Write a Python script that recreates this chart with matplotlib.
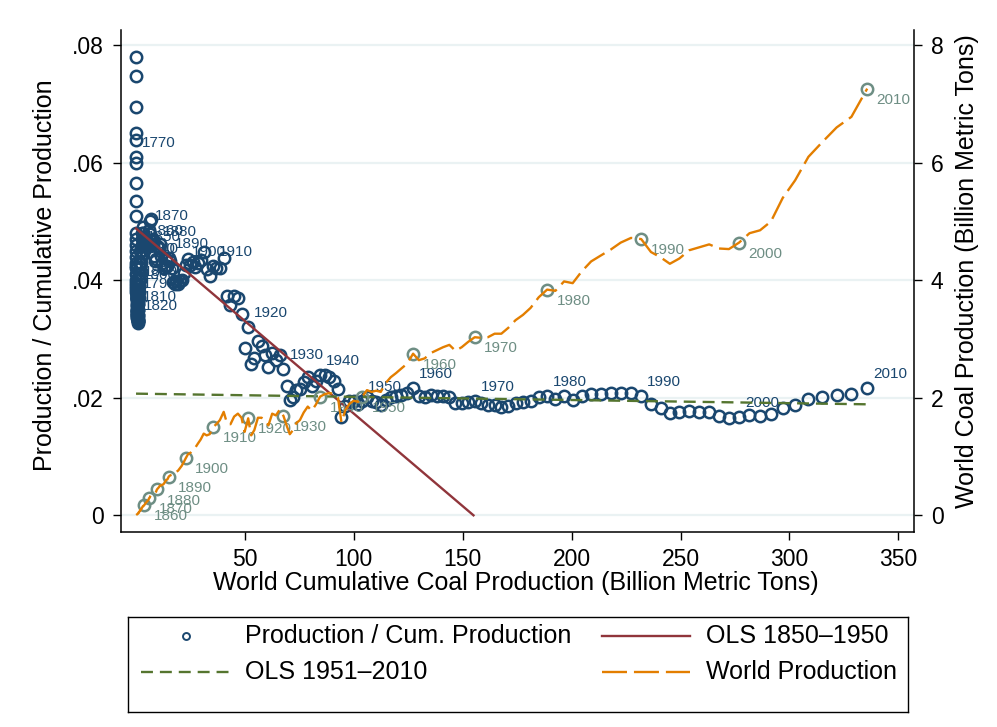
import numpy as np
import matplotlib
matplotlib.use("Agg")
import matplotlib.pyplot as plt

plt.rcParams['font.family'] = ['Liberation Sans', 'DejaVu Sans']
plt.rcParams['lines.scale_dashes'] = False

# production / cumulative production, 1765-1859 (cumulative is tiny here)
ratio_early = [
    0.0780, 0.0747, 0.0695, 0.0650, 0.0638,
    0.0610, 0.0600, 0.0565, 0.0535, 0.0509, 0.0480, 0.0470, 0.0460, 0.0450, 0.0440,
    0.0430, 0.0425, 0.0420, 0.0410, 0.0400, 0.0395, 0.0390, 0.0385, 0.0380, 0.0375,
    0.0370, 0.0372, 0.0368, 0.0370, 0.0375, 0.0372, 0.0376, 0.0382, 0.0378, 0.0380,
    0.0385, 0.0380, 0.0375, 0.0368, 0.0370, 0.0365, 0.0358, 0.0360, 0.0355, 0.0350,
    0.0347, 0.0348, 0.0342, 0.0350, 0.0340, 0.0345, 0.0338, 0.0340, 0.0335, 0.0330,
    0.0332, 0.0328, 0.0330, 0.0335, 0.0340, 0.0330, 0.0350, 0.0340, 0.0350, 0.0360,
    0.0390, 0.0370, 0.0360, 0.0380, 0.0390, 0.0370, 0.0380, 0.0410, 0.0390, 0.0400,
    0.0430, 0.0410, 0.0400, 0.0420, 0.0430, 0.0410, 0.0420, 0.0450, 0.0430, 0.0440,
    0.0450, 0.0440, 0.0450, 0.0460, 0.0480, 0.0470, 0.0490, 0.0480, 0.0460, 0.0470,
]
cum_1859 = 3.53  # billion metric tons mined before 1860

# world coal production 1860-2010, billion metric tons
prod_late = [
    0.17,
    0.18, 0.19, 0.20, 0.21, 0.22, 0.23, 0.24, 0.25, 0.26, 0.29,
    0.30, 0.33, 0.35, 0.34, 0.36, 0.37, 0.37, 0.38, 0.40, 0.44,
    0.46, 0.48, 0.51, 0.51, 0.52, 0.53, 0.56, 0.60, 0.61, 0.66,
    0.68, 0.69, 0.68, 0.70, 0.74, 0.76, 0.80, 0.84, 0.90, 0.97,
    1.04, 1.06, 1.12, 1.15, 1.22, 1.29, 1.39, 1.36, 1.38, 1.50,
    1.55, 1.62, 1.76, 1.56, 1.55, 1.68, 1.73, 1.66, 1.42, 1.65,
    1.36, 1.45, 1.66, 1.66, 1.62, 1.53, 1.73, 1.70, 1.80, 1.69,
    1.52, 1.38, 1.45, 1.57, 1.62, 1.75, 1.85, 1.78, 1.88, 2.02,
    2.06, 2.08, 2.07, 2.00, 1.58, 1.79, 1.90, 1.95, 1.93, 2.02,
    2.13, 2.10, 2.12, 2.10, 2.25, 2.35, 2.42, 2.50, 2.58, 2.75,
    2.64, 2.67, 2.76, 2.81, 2.86, 2.90, 2.80, 2.86, 2.95, 3.03,
    3.02, 3.03, 3.09, 3.09, 3.19, 3.32, 3.41, 3.53, 3.71, 3.84,
    3.82, 3.98, 3.95, 4.15, 4.32, 4.42, 4.52, 4.64, 4.72, 4.70,
    4.48, 4.39, 4.28, 4.37, 4.51, 4.56, 4.61, 4.54, 4.53, 4.64,
    4.80, 4.85, 5.00, 5.40, 5.70, 6.10, 6.35, 6.60, 6.78, 7.26,
]

# fitted lines: (intercept, slope)
ols_1850_1950 = (0.0488, -0.000315)
ols_1951_2010 = (0.0207, -0.0000054)

years = np.arange(1765, 2011)

# rebuild the early years backwards from the 1859 stock
cum_early = []
c = cum_1859
for r in reversed(ratio_early):
    cum_early.append(c)
    c = c - r * c
cum_early = np.array(cum_early[::-1])
prod_early = np.array(ratio_early) * cum_early

cum_late = cum_1859 + np.cumsum(prod_late)
cum = np.concatenate([cum_early, cum_late])
prod = np.concatenate([prod_early, np.array(prod_late)])
ratio = prod / cum

navy = '#1a476f'
maroon = '#90353b'
green = '#55752f'
orange = '#e37e00'
teal = '#6e8e84'
gridc = '#eaf2f3'

fig = plt.figure(figsize=(9.97, 7.27), dpi=100)
ax = fig.add_axes([0.12136, 0.26823, 0.79569, 0.69051])
ax2 = ax.twinx()

ax.set_xlim(-6.9, 357.3)
ax.set_ylim(-0.00284, 0.08258)
ax2.set_ylim(-0.284, 8.258)

for yv in [0, 0.02, 0.04, 0.06, 0.08]:
    ax.axhline(yv, color=gridc, lw=1.6, zorder=0)

# production / cumulative production
ax.plot(cum, ratio, 'o', ls='none', mfc='none', mec=navy, ms=8.2, mew=1.8, zorder=3)
dec = (years % 10 == 0) & (years >= 1770)
for yr, xv, yv in zip(years[dec], cum[dec], ratio[dec]):
    ax.annotate(str(yr), (xv, yv), xytext=(4.3, 10), textcoords='offset points',
                color=navy, fontsize=11, ha='left', va='center', zorder=4)

# OLS fits
a, b = ols_1850_1950
ax.plot([0, -a / b], [a, 0], color=maroon, lw=1.7, zorder=5)
a2, b2 = ols_1951_2010
ax.plot([0, cum.max()], [a2, a2 + b2 * cum.max()], color=green, lw=1.7,
        dashes=(8.6, 5), zorder=5)

# world production on the right axis
dec2 = (years % 10 == 0) & (years >= 1860)
ax2.plot(cum[dec2], prod[dec2], 'o', ls='none', mfc='none', mec=teal, ms=8.2, mew=1.8, zorder=2)
for yr, xv, yv in zip(years[dec2], cum[dec2], prod[dec2]):
    ax2.annotate(str(yr), (xv, yv), xytext=(6.8, -8), textcoords='offset points',
                 color=teal, fontsize=11, ha='left', va='center', zorder=2)
ax2.plot(cum, prod, color=orange, lw=1.7, dashes=(18, 5), zorder=3)

# axes styling
ax.set_xticks([50, 100, 150, 200, 250, 300, 350])
ax.set_yticks([0, 0.02, 0.04, 0.06, 0.08])
ax.set_yticklabels(['0', '.02', '.04', '.06', '.08'])
ax2.set_yticks([0, 2, 4, 6, 8])
ax2.set_yticklabels(['0', '2', '4', '6', '8'])
ax.tick_params(axis='both', length=5.8, width=1, labelsize=16.5, direction='out')
ax.tick_params(axis='y', pad=6.5)
ax.tick_params(axis='x', pad=5.5)
ax2.tick_params(axis='y', length=5.8, width=1, labelsize=16.5, pad=6, direction='out')

for s in ['top', 'right']:
    ax.spines[s].set_visible(False)
for s in ['top', 'left', 'bottom']:
    ax2.spines[s].set_visible(False)
ax.spines['left'].set_linewidth(1.1)
ax.spines['bottom'].set_linewidth(1.1)
ax2.spines['right'].set_linewidth(1.1)

ax.set_xlabel('World Cumulative Coal Production (Billion Metric Tons)', fontsize=18, va='center')
ax.xaxis.set_label_coords(0.498, -0.1016)
ax.set_ylabel('Production / Cumulative Production', fontsize=18, va='center')
ax.yaxis.set_label_coords(-0.0958, 0.512)
ax2.set_ylabel('World Coal Production (Billion Metric Tons)', fontsize=18, va='center')
ax2.yaxis.set_label_coords(1.0664, 0.519)

# legend box
lax = fig.add_axes([128 / 997, 1 - 712 / 727, 780 / 997, 95 / 727])
lax.set_xlim(128, 908)
lax.set_ylim(712, 617)
lax.set_xticks([])
lax.set_yticks([])
for s in lax.spines.values():
    s.set_linewidth(1.0)
lax.plot([186], [636], 'o', mfc='none', mec=navy, ms=5, mew=1.4)
lax.text(245, 636, 'Production / Cum. Production', fontsize=18, va='center')
lax.plot([602, 690], [636, 636], color=maroon, lw=1.7)
lax.text(706, 636, 'OLS 1850\u20131950', fontsize=18, va='center')
lax.plot([141, 230], [672, 672], color=green, lw=1.7, dashes=(8.6, 5))
lax.text(245, 672, 'OLS 1951\u20132010', fontsize=18, va='center')
lax.plot([602, 690], [672, 672], color=orange, lw=1.7, dashes=(18, 5))
lax.text(706, 672, 'World Production', fontsize=18, va='center')

fig.savefig('out.png', dpi=100)
